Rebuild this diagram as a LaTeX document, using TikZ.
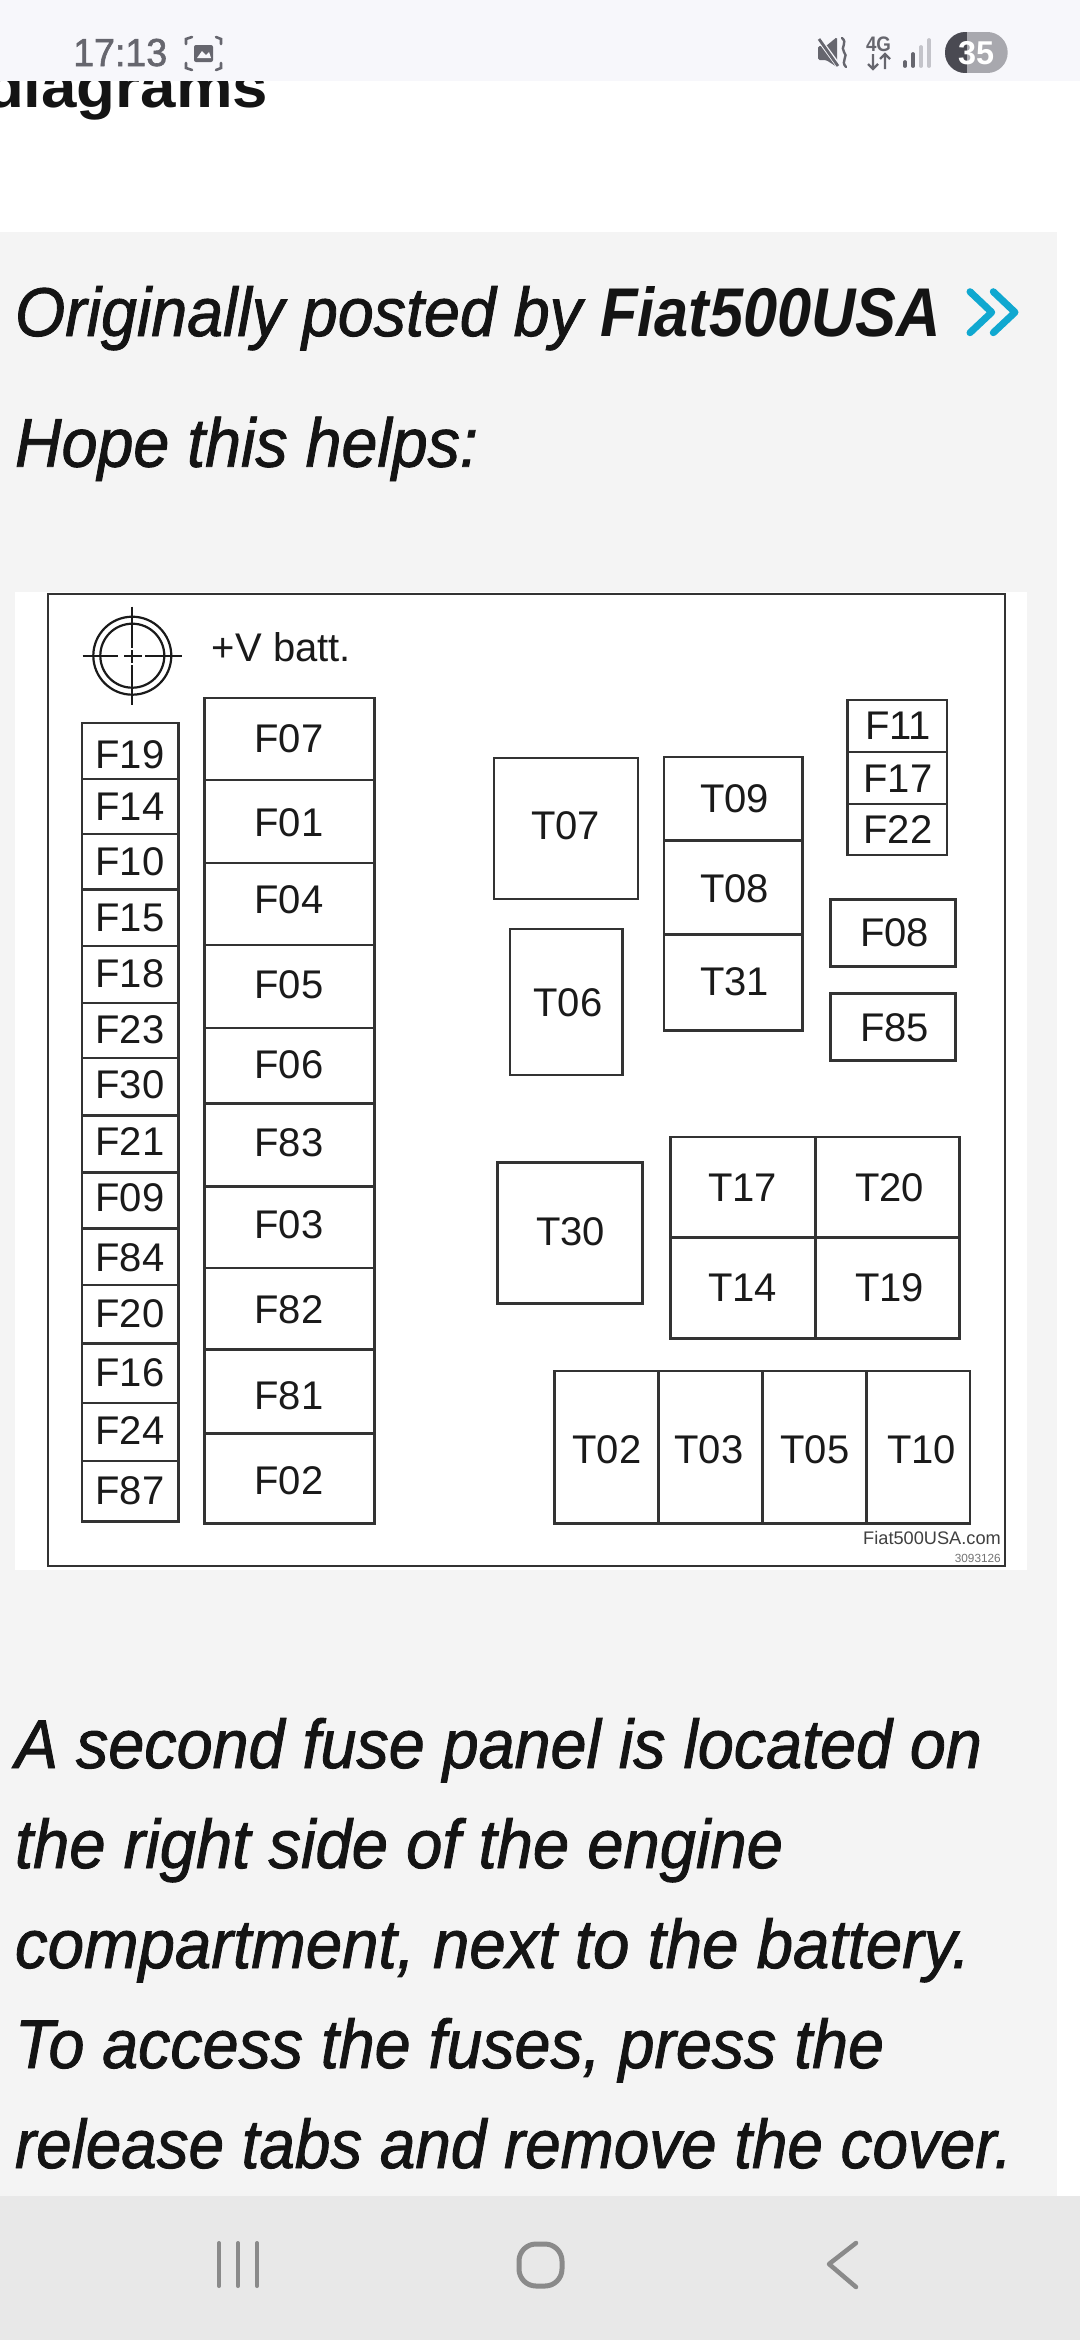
\documentclass[tikz,border=0pt]{standalone}
\usepackage{fontspec}
\setmainfont{Liberation Sans}
\newfontface\bodyit{Liberation Sans Italic}[FakeBold=1.3]
\newfontface\bodybi{Liberation Sans Bold Italic}
\newfontface\headb{Liberation Sans Bold}
\newfontface\statusf{Liberation Sans}[FakeBold=1.5]
\definecolor{panel}{HTML}{F4F4F4}
\definecolor{statusbg}{HTML}{F7F7FB}
\definecolor{navbg}{HTML}{E8E8E8}
\definecolor{statusfg}{HTML}{66666E}
\definecolor{navfg}{HTML}{8A8A8A}
\definecolor{ink}{HTML}{1A1A1A}
\definecolor{wire}{HTML}{333333}
\definecolor{cyanmark}{HTML}{10A8D0}
\definecolor{pilldark}{HTML}{4A4A52}
\definecolor{pilllight}{HTML}{A8A8AE}
\definecolor{barlight}{HTML}{C4C4CA}
\tikzset{
  wirebox/.style={draw=wire,line width=2.5pt},
  lbl/.style={anchor=base,inner sep=0pt,outer sep=0pt,text=ink,font=\fontsize{40}{40}\selectfont},
  bodyline/.style={anchor=base west,inner sep=0pt,outer sep=0pt,text=black!92},
}
% name, x1,y1,x2,y2, text x, text y-centre, text
\newcommand{\cellbox}[8]{%
  \draw[wirebox] (#2,#3) rectangle (#4,#5);
  \node[lbl] (#1) at (#6,#7+14) {#8};
}
\newcommand{\fitted}[2]{\resizebox{#1pt}{\height}{#2}}
\begin{document}
\begin{tikzpicture}[x=1pt,y=-1pt]
\useasboundingbox (0,0) rectangle (1080,2340);
\fill[white] (0,0) rectangle (1080,2340);
\fill[panel] (0,232) rectangle (1057,2196);
% heading remnant
\node[bodyline] (head) at (-15,107) {\fontsize{60}{60}\selectfont\headb\fitted{283}{diagrams}};
% status bar
\fill[statusbg] (0,0) rectangle (1080,81);
\node[anchor=base west,inner sep=0pt,text=statusfg] (clock) at (73,66) {\fontsize{39}{39}\selectfont\statusf\fitted{94}{17:13}};
\draw[statusfg,line width=2.6pt,line cap=round]
  (186,44) -- (186,39) -- (192,37) (216,37) -- (221,39) -- (221,44)
  (186,63) -- (186,68) -- (192,70) (216,70) -- (221,68) -- (221,63);
\fill[statusfg,rounded corners=2pt] (194,45) rectangle (213,62);
\fill[statusbg] (197,58) -- (202,51) -- (206,55) -- (209,52) -- (211,58) -- cycle;
\fill[statusfg,rounded corners=1.5pt] (818,46) -- (826,46) -- (837,37) -- (837,67) -- (826,60) -- (818,60) -- cycle;
\draw[statusbg,line width=5pt] (816,35) -- (840,68);
\draw[statusfg,line width=2.8pt] (819,39) -- (838,66);
\draw[statusfg,line width=2.4pt,line cap=round] (842,38) .. controls (848,43) and (840,47) .. (844,52) .. controls (849,56) and (840,61) .. (846,67);
\node[anchor=base,inner sep=0pt,text=statusfg] (net) at (878.5,51) {\fontsize{21}{21}\selectfont\bfseries\fitted{25}{4G}};
\draw[statusfg,line width=2.2pt] (873,54) -- (873,69) (868,64) -- (873,69) -- (878,64)
  (885,69) -- (885,54) (880,59) -- (885,54) -- (890,59);
\draw[statusfg,line width=3.8pt,line cap=round] (905,62) -- (905,66) (913,54) -- (913,66);
\draw[barlight,line width=3.8pt,line cap=round] (921,47) -- (921,66) (929,40) -- (929,66);
\begin{scope}
  \clip[rounded corners=20.4pt] (945,32) rectangle (1007.7,73);
  \fill[pilllight] (945,32) rectangle (1007.7,73);
  \fill[pilldark] (945,32) rectangle (966.7,73);
\end{scope}
\node[text=white,inner sep=0pt] (batt) at (976,53) {\fontsize{33}{33}\selectfont\bfseries\fitted{36}{35}};
% post text
\node[bodyline] (l1) at (15,336) {\fontsize{69}{69}\selectfont\fitted{567}{\bodyit Originally posted by}\hspace{18pt}\fitted{341}{\bodybi Fiat500USA}};
\draw[cyanmark,line width=7pt,line cap=round,line join=round] (970,291.7) -- (991.7,312.3) -- (970,332.7);
\draw[cyanmark,line width=7pt,line cap=round,line join=round] (993.3,291.7) -- (1015,312.3) -- (993.3,332.7);
\node[bodyline] (l2) at (15,466.7) {\fontsize{69}{69}\selectfont\bodyit\fitted{463}{Hope this helps:}};
% diagram sheet
\fill[white] (15,592) rectangle (1027,1570);
\draw[draw=wire,line width=2.8pt] (48,594) rectangle (1005,1566);
% battery symbol
\draw[ink,line width=2.2pt] (132.3,655.7) circle[radius=39];
\draw[ink,line width=2.2pt] (132.3,655.7) circle[radius=32];
\draw[ink,line width=2.2pt]
  (82.7,655.7) -- (118,655.7) (124,655.7) -- (141.5,655.7) (145,655.7) -- (181.7,655.7)
  (132.3,606.7) -- (132.3,648) (132.3,650) -- (132.3,663) (132.3,665) -- (132.3,705);
\node[anchor=base west,inner sep=0pt,text=ink] (vbatt) at (211.7,661.5) {\fontsize{40}{40}\selectfont +V batt.};
% left column
\cellbox{f19}{82}{723}{178.7}{779}{130}{754}{F19}
\cellbox{f14}{82}{779}{178.7}{834}{130}{806}{F14}
\cellbox{f10}{82}{834}{178.7}{889.5}{130}{861}{F10}
\cellbox{f15}{82}{889.5}{178.7}{946}{130}{917}{F15}
\cellbox{f18}{82}{946}{178.7}{1003}{130}{973.5}{F18}
\cellbox{f23}{82}{1003}{178.7}{1058}{130}{1029}{F23}
\cellbox{f30}{82}{1058}{178.7}{1115.7}{130}{1084.5}{F30}
\cellbox{f21}{82}{1115.7}{178.7}{1172.7}{130}{1141}{F21}
\cellbox{f09}{82}{1172.7}{178.7}{1228.7}{130}{1197}{F09}
\cellbox{f84}{82}{1228.7}{178.7}{1285}{130}{1257}{F84}
\cellbox{f20}{82}{1285}{178.7}{1343.7}{130}{1313.7}{F20}
\cellbox{f16}{82}{1343.7}{178.7}{1403}{130}{1372}{F16}
\cellbox{f24}{82}{1403}{178.7}{1461}{130}{1430}{F24}
\cellbox{f87}{82}{1461}{178.7}{1521.7}{130}{1490}{F87}
% second column
\cellbox{f07}{204.3}{698}{374.3}{780}{289}{738.5}{F07}
\cellbox{f01}{204.3}{780}{374.3}{863}{289}{822}{F01}
\cellbox{f04}{204.3}{863}{374.3}{945}{289}{899}{F04}
\cellbox{f05}{204.3}{945}{374.3}{1028}{289}{984}{F05}
\cellbox{f06}{204.3}{1028}{374.3}{1103.7}{289}{1064}{F06}
\cellbox{f83}{204.3}{1103.7}{374.3}{1186.3}{289}{1142}{F83}
\cellbox{f03}{204.3}{1186.3}{374.3}{1268}{289}{1224}{F03}
\cellbox{f82}{204.3}{1268}{374.3}{1349.7}{289}{1309}{F82}
\cellbox{f81}{204.3}{1349.7}{374.3}{1433.7}{289}{1395.5}{F81}
\cellbox{f02}{204.3}{1433.7}{374.3}{1523.3}{289}{1480.5}{F02}
% relays
\cellbox{t07}{494}{758}{638}{899}{565.5}{825}{T07}
\cellbox{t06}{510}{929}{622.7}{1075}{568}{1002.7}{T06}
\cellbox{t09}{664}{757}{802.7}{840.7}{734.5}{798.7}{T09}
\cellbox{t08}{664}{840.7}{802.7}{934.3}{734.5}{888}{T08}
\cellbox{t31}{664}{934.3}{802.7}{1030.3}{734.5}{981}{T31}
\cellbox{f11}{847.3}{700}{947}{752}{898}{725}{F11}
\cellbox{f17}{847.3}{752}{947}{804}{898}{778}{F17}
\cellbox{f22}{847.3}{804}{947}{855}{898}{829}{F22}
\cellbox{f08}{830.7}{899.7}{955.7}{966.7}{894.5}{932.5}{F08}
\cellbox{f85}{830.7}{993.7}{955.7}{1060.7}{894.5}{1027}{F85}
\cellbox{t30}{497.3}{1162.3}{642.3}{1303.3}{570.5}{1231}{T30}
\cellbox{t17}{670.3}{1137}{815.3}{1237.7}{742.5}{1187}{T17}
\cellbox{t20}{815.3}{1137}{959.7}{1237.7}{889.5}{1187}{T20}
\cellbox{t14}{670.3}{1237.7}{815.3}{1338.3}{742.5}{1287}{T14}
\cellbox{t19}{815.3}{1237.7}{959.7}{1338.3}{889.5}{1287}{T19}
\cellbox{t02}{554.7}{1371}{658.7}{1523.3}{607}{1449}{T02}
\cellbox{t03}{658.7}{1371}{762.7}{1523.3}{709}{1449}{T03}
\cellbox{t05}{762.7}{1371}{866.7}{1523.3}{815}{1449}{T05}
\cellbox{t10}{866.7}{1371}{970}{1523.3}{921.5}{1449}{T10}
\node[anchor=base east,inner sep=0pt,text=black!75] (wm) at (1001,1544) {\fontsize{18.2}{18.2}\selectfont Fiat500USA.com};
\node[anchor=base east,inner sep=0pt,text=black!55] (ref) at (1001,1562) {\fontsize{11.8}{11.8}\selectfont 3093126};
% lower text
\node[bodyline] (p1) at (15,1768) {\fontsize{69}{69}\selectfont\bodyit\fitted{967}{A second fuse panel is located on}};
\node[bodyline] (p2) at (15,1868) {\fontsize{69}{69}\selectfont\bodyit\fitted{768}{the right side of the engine}};
\node[bodyline] (p3) at (15,1968) {\fontsize{69}{69}\selectfont\bodyit\fitted{955}{compartment, next to the battery.}};
\node[bodyline] (p4) at (15,2068) {\fontsize{69}{69}\selectfont\bodyit\fitted{869}{To access the fuses, press the}};
\node[bodyline] (p5) at (15,2168) {\fontsize{69}{69}\selectfont\bodyit\fitted{997}{release tabs and remove the cover.}};
% navigation bar
\fill[navbg] (0,2196) rectangle (1080,2340);
\draw[navfg,line width=4pt,line cap=round] (219,2243) -- (219,2286) (238,2243) -- (238,2286) (257,2243) -- (257,2286);
\draw[navfg,line width=5pt,rounded corners=17pt] (519,2244) rectangle (562,2286);
\draw[navfg,line width=4.5pt,line cap=round,line join=round] (856,2243) -- (829,2264) -- (856,2287);
\end{tikzpicture}
\end{document}
